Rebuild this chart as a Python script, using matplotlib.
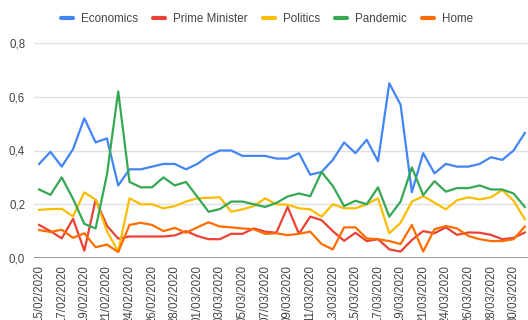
import matplotlib
matplotlib.use("Agg")
import matplotlib.pyplot as plt

plt.rcParams['font.family'] = ['Liberation Sans', 'DejaVu Sans']

dates = ["15/02/2020", "16/02/2020", "17/02/2020", "18/02/2020", "19/02/2020",
         "20/02/2020", "21/02/2020", "22/02/2020", "24/02/2020", "25/02/2020",
         "26/02/2020", "27/02/2020", "28/02/2020", "29/02/2020", "01/03/2020",
         "02/03/2020", "03/03/2020", "04/03/2020", "05/03/2020", "06/03/2020",
         "07/03/2020", "08/03/2020", "09/03/2020", "10/03/2020", "11/03/2020",
         "12/03/2020", "13/03/2020", "14/03/2020", "15/03/2020", "16/03/2020",
         "17/03/2020", "18/03/2020", "19/03/2020", "20/03/2020", "21/03/2020",
         "22/03/2020", "24/03/2020", "25/03/2020", "26/03/2020", "27/03/2020",
         "28/03/2020", "29/03/2020", "30/03/2020", "31/03/2020"]

economics = [0.35, 0.395, 0.34, 0.405, 0.52, 0.43, 0.445, 0.27, 0.33, 0.33,
             0.34, 0.35, 0.35, 0.33, 0.35, 0.38, 0.40, 0.40, 0.38, 0.38,
             0.38, 0.37, 0.37, 0.39, 0.31, 0.32, 0.365, 0.43, 0.39, 0.44,
             0.36, 0.65, 0.57, 0.245, 0.39, 0.315, 0.35, 0.34, 0.34, 0.35,
             0.375, 0.365, 0.40, 0.465]
prime_minister = [0.123, 0.10, 0.073, 0.146, 0.027, 0.217, 0.12, 0.072, 0.08, 0.08,
                  0.08, 0.08, 0.084, 0.10, 0.082, 0.07, 0.07, 0.09, 0.09, 0.11,
                  0.098, 0.094, 0.19, 0.09, 0.154, 0.141, 0.10, 0.064, 0.094, 0.063,
                  0.07, 0.032, 0.024, 0.067, 0.10, 0.092, 0.114, 0.086, 0.095, 0.094,
                  0.086, 0.07, 0.075, 0.095]
politics = [0.179, 0.182, 0.183, 0.155, 0.244, 0.217, 0.10, 0.024, 0.222, 0.20,
            0.20, 0.185, 0.193, 0.21, 0.222, 0.224, 0.226, 0.172, 0.181, 0.193,
            0.222, 0.20, 0.198, 0.185, 0.181, 0.154, 0.20, 0.185, 0.185, 0.20,
            0.222, 0.092, 0.131, 0.21, 0.23, 0.206, 0.181, 0.215, 0.226, 0.218,
            0.226, 0.253, 0.213, 0.144]
pandemic = [0.255, 0.235, 0.30, 0.22, 0.127, 0.11, 0.31, 0.62, 0.283, 0.263,
            0.263, 0.30, 0.27, 0.283, 0.228, 0.172, 0.182, 0.21, 0.21, 0.20,
            0.19, 0.205, 0.229, 0.24, 0.23, 0.32, 0.268, 0.193, 0.213, 0.20,
            0.263, 0.154, 0.21, 0.337, 0.234, 0.286, 0.247, 0.26, 0.26, 0.27,
            0.255, 0.255, 0.24, 0.19]
home = [0.104, 0.097, 0.105, 0.075, 0.092, 0.04, 0.05, 0.022, 0.123, 0.131,
        0.123, 0.10, 0.112, 0.094, 0.114, 0.133, 0.117, 0.114, 0.11, 0.107,
        0.09, 0.092, 0.085, 0.09, 0.098, 0.052, 0.032, 0.114, 0.114, 0.073,
        0.07, 0.063, 0.052, 0.123, 0.024, 0.107, 0.119, 0.11, 0.082, 0.07,
        0.063, 0.063, 0.07, 0.117]

series = [("Economics", economics, "#4285F4"),
          ("Prime Minister", prime_minister, "#EA4335"),
          ("Politics", politics, "#FBBC04"),
          ("Pandemic", pandemic, "#34A853"),
          ("Home", home, "#FF6D01")]

fig = plt.figure(figsize=(5.28, 3.2), dpi=100)
ax = fig.add_axes([33.5 / 528, 62 / 320, 497 / 528, 215 / 320])

x = list(range(len(dates)))
for name, vals, col in series:
    ax.plot(x, vals, color=col, lw=1.6, label=name, solid_joinstyle='round')

ax.set_xlim(-0.5, len(dates) - 0.5)
ax.set_ylim(0, 0.8)
yt = [0, 0.2, 0.4, 0.6, 0.8]
ax.set_yticks(yt)
ax.set_yticklabels([f"{v:.1f}".replace('.', ',') for v in yt])
ax.set_xticks(x[::2])
ax.set_xticklabels(dates[::2], rotation=90, va='top', ha='center')
ax.tick_params(axis='both', length=0, colors='#444444', labelsize=8.3)
ax.tick_params(axis='y', pad=6)
ax.tick_params(axis='x', pad=5)
for s in ax.spines.values():
    s.set_visible(False)
for v in yt[1:]:
    ax.axhline(v, color='#e0e0e0', lw=1, zorder=0)
ax.axhline(0, color='#888888', lw=1.2, zorder=0.5)

fig.legend(loc='center', bbox_to_anchor=(267 / 528, 1 - 19 / 320), ncol=5,
           frameon=False, fontsize=8.4, handlelength=1.0, handletextpad=0.7,
           columnspacing=1.3, labelcolor='#444444')
for h in fig.legends[0].get_lines():
    h.set_linewidth(3)
    h.set_solid_capstyle('round')

fig.savefig("out.png", dpi=100)
